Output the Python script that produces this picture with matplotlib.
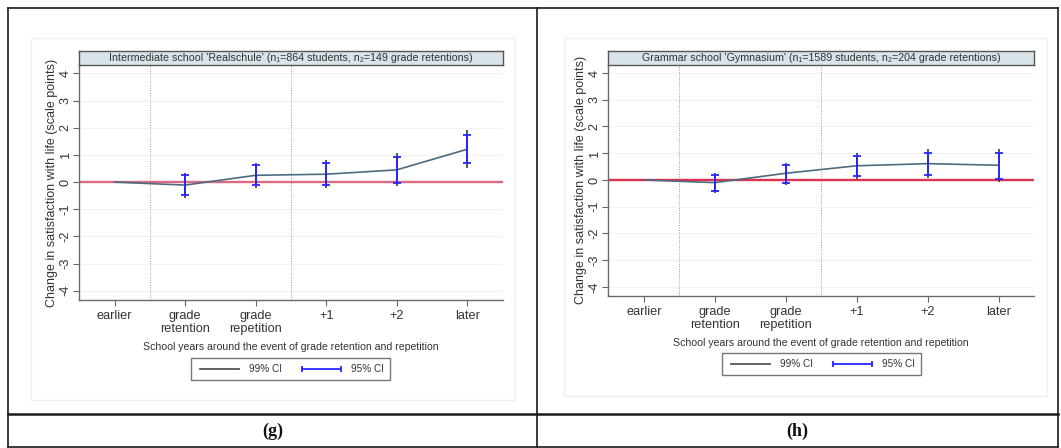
import numpy as np
import matplotlib
matplotlib.use("Agg")
import matplotlib.pyplot as plt
from matplotlib.lines import Line2D
from matplotlib.patches import Rectangle

plt.rcParams["font.family"] = ["Liberation Sans", "DejaVu Sans"]

# ---- data ----
categories = ["earlier", "grade\nretention", "grade\nrepetition", "+1", "+2", "later"]
y_ticks = [-4, -3, -2, -1, 0, 1, 2, 3, 4]

real_title = "Intermediate school 'Realschule' (n\u2081=864 students, n\u2082=149 grade retentions)"
real_est  = [0.0, -0.11, 0.25, 0.29, 0.45, 1.21]
real_lo95 = [np.nan, -0.48, -0.11, -0.11, -0.02, 0.70]
real_hi95 = [np.nan, 0.26, 0.63, 0.70, 0.93, 1.75]
real_lo99 = [np.nan, -0.59, -0.21, -0.21, -0.13, 0.53]
real_hi99 = [np.nan, 0.34, 0.71, 0.80, 1.06, 1.90]

gym_title = "Grammar school 'Gymnasium' (n\u2081=1589 students, n\u2082=204 grade retentions)"
gym_est  = [0.0, -0.10, 0.25, 0.53, 0.61, 0.55]
gym_lo95 = [np.nan, -0.41, -0.10, 0.16, 0.20, 0.05]
gym_hi95 = [np.nan, 0.19, 0.55, 0.91, 1.02, 1.02]
gym_lo99 = [np.nan, -0.49, -0.19, 0.05, 0.09, -0.09]
gym_hi99 = [np.nan, 0.27, 0.64, 1.00, 1.14, 1.14]

panel_labels = ["(g)", "(h)"]

W, H = 1061, 448
_TXT = "#333333"
_LINE = "#4d6b80"
_BLUE = "#2626ff"
_DARK = "#3a3a3a"


def px(x0, y0, x1, y1):
    # pixel box (top-left origin) -> figure fraction rect
    return [x0 / W, 1 - y1 / H, (x1 - x0) / W, (y1 - y0) / H]


def draw_panel(fig, box, title_box, region, title, est, lo95, hi95, lo99, hi99,
               zero_color, legend_top):
    # faint graph region
    fig.add_artist(Rectangle((region[0] / W, 1 - region[3] / H),
                             (region[2] - region[0]) / W, (region[3] - region[1]) / H,
                             transform=fig.transFigure, fill=False,
                             edgecolor="#f0f0f0", linewidth=1.0))

    ax = fig.add_axes(px(*box))
    x = np.arange(1, len(categories) + 1)

    ax.set_xlim(0.5, 6.5)
    ax.set_ylim(-4.33, 4.3)
    for yv in y_ticks:
        ax.axhline(yv, color="#eef2f4", linewidth=0.8, zorder=0)
    for xv in (1.5, 3.5):
        ax.axvline(xv, color="#9a9a9a", linestyle=(0, (1, 1.5)), linewidth=0.7, zorder=1)
    ax.axhline(0, color=zero_color, linewidth=1.7, zorder=2)

    ax.plot(x, est, color=_LINE, linewidth=1.2, zorder=3)
    ax.vlines(x, lo99, hi99, color=_DARK, linewidth=1.2, zorder=4)
    est_arr = np.array(est)
    yerr = [est_arr - np.array(lo95), np.array(hi95) - est_arr]
    ax.errorbar(x, est, yerr=yerr, fmt="none", ecolor=_BLUE, elinewidth=1.3,
                capsize=3, capthick=1.3, zorder=5)

    ax.set_xticks(x)
    ax.set_xticklabels(categories, fontsize=9.2, color=_TXT, linespacing=1.05)
    ax.set_yticks(y_ticks)
    ax.set_yticklabels([str(v) for v in y_ticks], rotation=90, va="center",
                       fontsize=9.2, color=_TXT)
    ax.tick_params(axis="both", length=4, width=0.8, color="#666666")
    ax.tick_params(axis="x", pad=3.5)
    ax.tick_params(axis="y", pad=1.5)
    ax.spines[["top", "right"]].set_visible(False)
    for s in ("left", "bottom"):
        ax.spines[s].set_color("#6a6a6a")
        ax.spines[s].set_linewidth(1.0)

    ax.set_ylabel("Change in satisfaction with life (scale points)", fontsize=9.0,
                  color=_TXT, labelpad=1.5)
    ax.set_xlabel("School years around the event of grade retention and repetition",
                  fontsize=7.6, color=_TXT, labelpad=5)

    # title strip
    tax = fig.add_axes(px(*title_box))
    tax.set_facecolor("#d8e3ea")
    tax.set_xticks([])
    tax.set_yticks([])
    for s in tax.spines.values():
        s.set_color("#555555")
        s.set_linewidth(1.0)
    tax.text(0.5, 0.5, title, ha="center", va="center", fontsize=7.7, color=_TXT,
             transform=tax.transAxes)

    handles = [
        Line2D([], [], color="#555555", linewidth=1.3),
        Line2D([], [], color=_BLUE, linewidth=1.3, marker="|", markersize=5,
               markeredgewidth=1.3),
    ]
    cx = (box[0] + box[2]) / 2 / W
    leg = ax.legend(handles, ["99% CI", "95% CI"], loc="upper center",
                    bbox_to_anchor=(cx, 1 - legend_top / H),
                    bbox_transform=fig.transFigure, ncol=2, fontsize=7.2,
                    frameon=True, fancybox=False, numpoints=2, borderaxespad=0,
                    handlelength=4.5, columnspacing=1.7, handletextpad=0.7,
                    borderpad=0.6)
    leg.get_frame().set_edgecolor("#555555")
    leg.get_frame().set_linewidth(1.0)
    for t in leg.get_texts():
        t.set_color(_TXT)
    return ax


fig = plt.figure(figsize=(W / 100, H / 100), dpi=100)

draw_panel(fig, (79.3, 65.3, 502.5, 299.7), (79.3, 51, 502.5, 65.3), (31, 38, 515, 400),
           real_title, real_est, real_lo95, real_hi95, real_lo99, real_hi99,
           "#dc6a82", 358.3)
draw_panel(fig, (608.3, 65, 1034, 295.7), (608.3, 51, 1034, 65), (564, 38, 1047, 396),
           gym_title, gym_est, gym_lo95, gym_hi95, gym_lo99, gym_hi99,
           "#e0304f", 353.3)

# table borders
def hline(y, x0, x1, lw=1.2):
    fig.add_artist(Line2D([x0 / W, x1 / W], [1 - y / H, 1 - y / H],
                          transform=fig.transFigure, color="#1a1a1a", linewidth=lw))


def vline(x, y0, y1, lw=1.2):
    fig.add_artist(Line2D([x / W, x / W], [1 - y0 / H, 1 - y1 / H],
                          transform=fig.transFigure, color="#1a1a1a", linewidth=lw))


hline(8, 8, 1058)
hline(414, 8, 1058, lw=1.8)
hline(447, 8, 1058)
vline(8, 8, 447)
vline(537.5, 8, 447)
vline(1058, 8, 447)

for label, cx in zip(panel_labels, (272.5, 797.5)):
    fig.text(cx / W, 1 - 431 / H, label, ha="center", va="center", fontsize=13,
             fontweight="bold", family=["Liberation Serif", "DejaVu Serif"], color="#111111")

fig.savefig("out.png", dpi=100)
